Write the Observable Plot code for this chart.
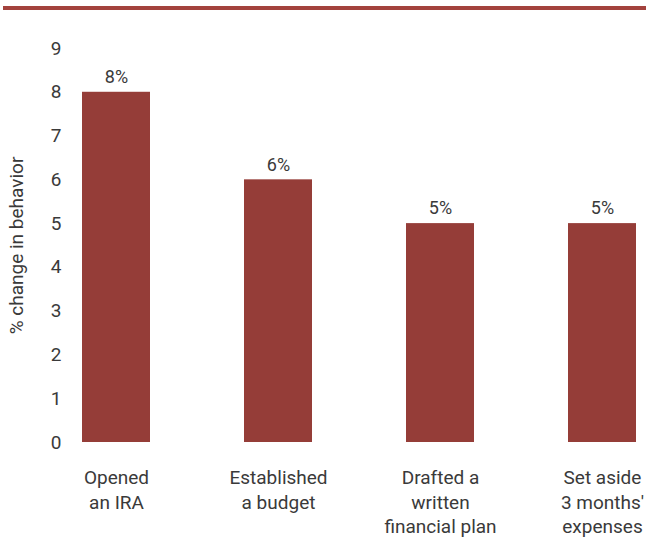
<!DOCTYPE html>
<html><head><meta charset="utf-8">
<script src="https://cdn.jsdelivr.net/npm/d3@7"></script>
<script src="https://cdn.jsdelivr.net/npm/@observablehq/plot@0.6"></script>
<style>
html,body{margin:0;padding:0;background:#fff;overflow:hidden;width:646px;height:537px}
#wrap{position:relative;width:646px;height:537px;overflow:hidden}
#rule{position:absolute;left:3px;right:0;top:6px;height:4px;background:#a3423d}
#chart{position:absolute;left:0;top:0}
</style></head>
<body><div id="wrap"><div id="rule"></div><div id="chart"></div></div>
<script>
const categories = ["Opened\nan IRA", "Established\na budget", "Drafted a\nwritten\nfinancial plan", "Set aside\n3 months'\nexpenses"];
const values = [8, 6, 5, 5];
const valueLabels = ["8%", "6%", "5%", "5%"];
const yTicks = [0, 1, 2, 3, 4, 5, 6, 7, 8, 9];
const yLabel = "% change in behavior";

const data = categories.map((c, i) => ({category: c, value: values[i], label: valueLabels[i]}));
const font = '"Liberation Sans Narrow","Arial Narrow",Roboto,sans-serif';
const ink = "#3a3a3a";

const chart = Plot.plot({
  width: 646, height: 537,
  marginTop: 48, marginBottom: 95, marginLeft: 64, marginRight: 0,
  style: {fontFamily: font, fontSize: "19px", color: ink, background: "transparent", overflow: "visible"},
  x: {domain: categories, range: [35, 683], paddingInner: 0.58, paddingOuter: 0.29},
  y: {domain: [0, 9]},
  marks: [
    Plot.barY(data, {x: "category", y: "value", fill: "#953d38"}),
    Plot.text(data, {x: "category", y: "value", text: "label", dy: -15, fontSize: 18, fill: ink}),
    Plot.axisY({ticks: yTicks, tickSize: 0, tickPadding: 3, fontSize: 19, label: yLabel, labelAnchor: "center", labelArrow: "none", labelOffset: 55, color: ink}),
    Plot.axisX({tickSize: 0, tickPadding: 24, lineHeight: 1.3, fontSize: 19, label: null, color: ink})
  ]
});
document.getElementById("chart").appendChild(chart);
</script>
</body></html>
